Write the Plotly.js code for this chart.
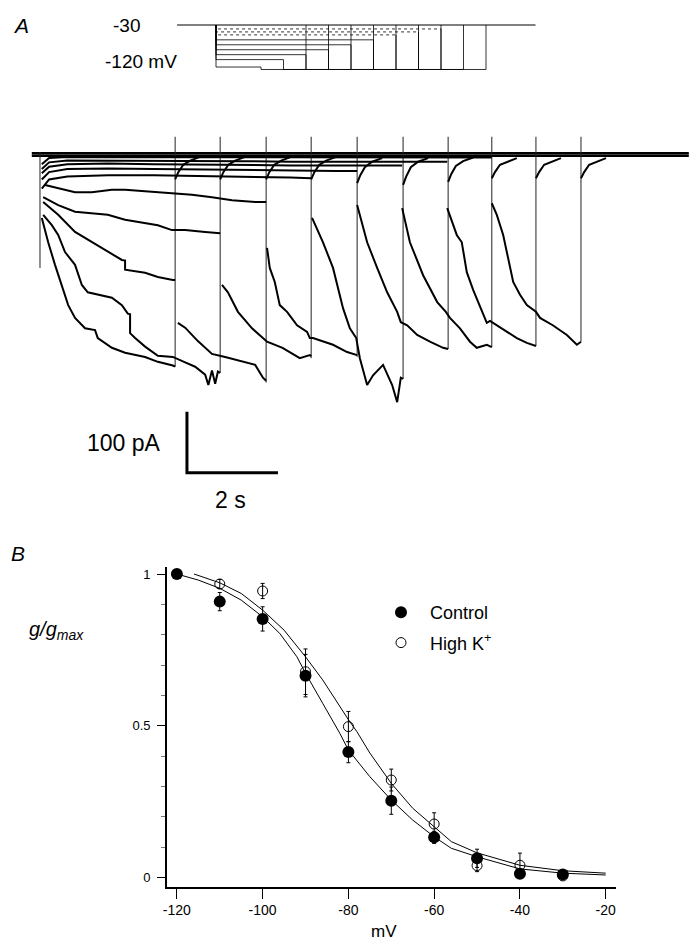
<!DOCTYPE html>
<html>
<head>
<meta charset="utf-8">
<script src="https://cdn.plot.ly/plotly-3.0.1.min.js"></script>
<style>html,body{margin:0;padding:0;background:#fff;}#chart{width:689px;height:945px;}</style>
</head>
<body>
<div id="chart"></div>
<script>
// ---------- Panel A : voltage protocol (time in s, voltage in mV) ----------
const protoHold_t = [-1.73, 14.2];
const protoHold_mV = [-30, -30];
const protoPrepulseEnd_s = [2, 3, 4, 5, 6, 7, 8, 9, 10];
const protoPrepulse_mV = [-115, -100, -90, -80, -70, -60, -50, -44, -38];
const protoTest_mV = -120;
const protoTestDur_s = 2;

// ---------- Panel A : current traces (time in s, current in pA) ----------
const holding_t = [-0.18, 14.26];
const holdingLevels_pA = [-2, -6];

const sweepA_t = [0.04,0.18,0.33,0.48,0.62,0.77,0.99,1.21,1.27,1.58,1.87,2.31,2.59,2.92,2.97,null,2.97,3.04,3.15,3.3,3.52];
const sweepA_pA = [-108,-148,-185,-218,-251,-272,-289,-292,-305,-321,-329,-336,-344,-350,-352,null,-45,-33,-21,-14,-8];

const sweepB_t = [0.07,0.26,0.4,0.55,0.77,0.92,1.05,1.27,1.58,1.8,1.93,1.98,1.98,2.09,2.31,2.59,2.92,3.19,3.41,3.63,3.7,3.78,3.85,3.91,3.96,null,3.96,4.03,4.14,4.29,4.51];
const sweepB_pA = [-103,-120,-136,-164,-185,-218,-230,-234,-239,-251,-265,-266,-297,-305,-319,-334,-336,-345,-352,-365,-382,-358,-380,-360,-362,null,-45,-33,-21,-14,-8];

const sweepC_t = [0.07,0.4,0.77,1.14,1.49,1.8,1.87,1.87,2.31,2.59,2.92,2.97,null,3.03,3.19,3.47,3.78,4.07,4.44,4.73,4.9,4.97,null,4.97,5.04,5.15,5.3,5.52];
const sweepC_pA = [-82,-103,-131,-148,-164,-177,-178,-193,-198,-205,-210,-210,null,-280,-288,-310,-331,-336,-344,-349,-370,-375,null,-45,-33,-21,-14,-8];

const sweepD_t = [0.07,0.4,0.77,1.14,1.49,1.87,2.24,2.59,2.9,3.19,3.63,3.91,3.96,null,4.0,4.13,4.35,4.66,4.9,4.99,5.33,5.71,5.93,5.96,null,5.96,6.03,6.14,6.29,6.51];
const sweepD_pA = [-74,-87,-98,-100,-103,-111,-115,-120,-128,-128,-131,-133,-133,null,-218,-230,-262,-289,-305,-311,-321,-338,-333,-335,null,-45,-33,-21,-14,-8];

const sweepE_t = [0.11,0.4,0.77,1.14,1.58,1.87,2.59,2.97,3.34,3.78,4.22,4.73,4.97,null,4.99,5.05,5.16,5.27,5.43,5.65,5.87,5.93,6.0,6.22,6.44,6.75,6.97,null,6.97,7.04,7.14,7.3,7.52];
const sweepE_pA = [-54,-59,-66,-66,-62,-62,-66,-67,-70,-74,-79,-82,-82,null,-157,-190,-213,-251,-262,-284,-295,-305,-305,-311,-316,-328,-333,null,-51,-38,-25,-16,-10];

const sweepF_t = [0.04,0.2,0.6,1.5,2.5,3.5,4.5,5.5,5.96,null,5.98,6.22,6.44,6.66,6.81,6.95,7.03,7.19,7.32,7.54,7.74,7.85,7.93,7.98,null,7.98,8.05,8.15,8.31,8.53];
const sweepF_pA = [-60,-45,-40,-38,-38,-39,-40,-42,-43,null,-108,-148,-190,-256,-289,-305,-338,-382,-366,-349,-382,-410,-370,-372,null,-54,-40,-25,-16,-10];

const sweepG_t = [0.04,0.2,0.6,1.5,2.5,3.5,4.5,5.5,6.5,6.97,null,6.97,7.19,7.41,7.63,7.85,7.93,8.07,8.29,8.57,8.86,8.97,null,8.97,9.04,9.14,9.3,9.52];
const sweepG_pA = [-45,-33,-28,-27,-28,-29,-30,-30,-31,-31,null,-87,-148,-190,-230,-262,-279,-284,-300,-311,-321,-323,null,-49,-36,-23,-15,-9];

const sweepH_t = [0.04,0.2,0.6,1.5,2.5,3.5,4.5,5.5,6.5,7.5,7.96,null,7.96,8.13,8.42,8.73,8.92,9.01,9.23,9.45,9.6,9.82,9.93,null,9.93,10.0,10.11,10.26,10.48];
const sweepH_pA = [-35,-24,-20,-19,-20,-21,-21,-22,-22,-22,-22,null,-92,-148,-202,-246,-262,-272,-289,-311,-321,-316,-320,null,-43,-33,-21,-16,-10];

const sweepI_t = [0.04,0.2,0.6,1.5,2.5,3.5,4.5,5.5,6.5,7.5,8.5,8.95,null,8.95,9.16,9.27,9.38,9.52,9.67,9.82,9.89,10.04,10.26,10.48,10.7,10.84,10.9,null,10.9,10.97,11.08,11.23,11.45];
const sweepI_pA = [-28,-17,-14,-14,-15,-15,-15,-16,-16,-16,-16,-16,null,-92,-136,-148,-197,-226,-254,-280,-277,-284,-295,-305,-313,-316,-318,null,-43,-33,-21,-16,-10];

const sweepJ_t = [0.04,0.2,0.6,1.5,2.5,3.5,4.5,5.5,6.5,7.5,8.5,9.5,9.93,null,9.93,10.04,10.18,10.29,10.4,10.55,10.7,10.9,10.99,11.27,11.58,11.8,11.86,11.89,null,11.89,11.96,12.07,12.22,12.44];
const sweepJ_pA = [-20,-10,-8,-8,-8,-9,-9,-9,-9,-9,-9,-9,-9,null,-84,-103,-136,-174,-213,-234,-251,-262,-272,-284,-300,-316,-312,-311,null,-43,-33,-21,-16,-10];

// capacitive transients at each voltage step
const transient_t = [0, 2.97, 3.96, 4.97, 5.96, 6.97, 7.98, 8.97, 9.93, 10.9, 11.89];
const transientTop_pA = [0, 25, 25, 25, 25, 25, 25, 25, 25, 25, 25];
const transientBottom_pA = [-190, -352, -362, -378, -338, -336, -372, -323, -320, -318, -311];

// scale bar: 2 s and 100 pA
const scaleBar_t = [3.23, 3.23, 5.23];
const scaleBar_pA = [-426, -526, -526];

// ---------- Panel B : g/gmax vs mV ----------
const control_mV = [-120,-110,-100,-90,-80,-70,-60,-50,-40,-30];
const control_g = [1.0,0.909,0.852,0.665,0.413,0.253,0.132,0.063,0.012,0.01];
const control_err = [0,0.03,0.04,0.07,0.035,0.045,0.02,0.03,0.01,0.01];
const highK_mV = [-110,-100,-90,-80,-70,-60,-50,-40,-30];
const highK_g = [0.967,0.944,0.678,0.497,0.321,0.176,0.039,0.04,0.005];
const highK_err = [0.015,0.025,0.075,0.05,0.036,0.037,0.02,0.04,0.01];

const controlFit_mV = [-120,-115,-110,-105,-100,-96,-92,-90,-86,-82,-80,-75,-70,-65,-60,-56,-50,-40,-30,-20];
const controlFit_g = [1.0,0.98,0.953,0.914,0.859,0.804,0.727,0.673,0.574,0.475,0.42,0.332,0.255,0.189,0.134,0.096,0.068,0.028,0.014,0.008];
const highKFit_mV = [-116,-110,-105,-100,-95,-90,-86,-82,-80,-78,-75,-70,-65,-60,-56,-50,-40,-30,-20];
const highKFit_g = [1.0,0.971,0.936,0.881,0.815,0.727,0.651,0.563,0.52,0.48,0.41,0.31,0.228,0.167,0.118,0.081,0.04,0.022,0.014];

const xTicks = [-120,-100,-80,-60,-40,-20];
const xTickText = ['-120','-100','-80','-60','-40','-20'];
const yTicks = [0, 0.5, 1];
const yTickText = ['0', '0.5', '1'];

// ---------- build ----------
const FONT = 'Liberation Sans, Arial, Helvetica, sans-serif';
const traces = [];
const skip = {showlegend: false, hoverinfo: 'skip'};

// protocol
traces.push(Object.assign({x: protoHold_t, y: protoHold_mV, xaxis: 'x3', yaxis: 'y3', mode: 'lines',
  line: {color: '#000', width: 1}}, skip));
protoPrepulseEnd_s.forEach((p, i) => {
  const v = protoPrepulse_mV[i];
  traces.push(Object.assign({
    x: [0, 0, p], y: [-30, v, v], xaxis: 'x3', yaxis: 'y3', mode: 'lines',
    line: {color: '#000', width: 0.8, dash: v > -55 ? 'dot' : 'solid'}}, skip));
  traces.push(Object.assign({
    x: [p, p, p + protoTestDur_s, p + protoTestDur_s], y: [v, protoTest_mV, protoTest_mV, -30],
    xaxis: 'x3', yaxis: 'y3', mode: 'lines', line: {color: '#000', width: 0.8}}, skip));
});

// holding baseline
holdingLevels_pA.forEach(lv => {
  traces.push(Object.assign({x: holding_t, y: [lv, lv], xaxis: 'x2', yaxis: 'y2', mode: 'lines',
    line: {color: '#000', width: 2.5}}, skip));
});

// transients (thin vertical lines)
const trX = [], trY = [];
transient_t.forEach((t, i) => { trX.push(t, t, null); trY.push(transientBottom_pA[i], transientTop_pA[i], null); });
traces.push(Object.assign({x: trX, y: trY, xaxis: 'x2', yaxis: 'y2', mode: 'lines',
  line: {color: '#222', width: 1}}, skip));

// sweeps
[[sweepA_t, sweepA_pA], [sweepB_t, sweepB_pA], [sweepC_t, sweepC_pA], [sweepD_t, sweepD_pA],
 [sweepE_t, sweepE_pA], [sweepF_t, sweepF_pA], [sweepG_t, sweepG_pA], [sweepH_t, sweepH_pA],
 [sweepI_t, sweepI_pA], [sweepJ_t, sweepJ_pA]].forEach(([t, i]) => {
  traces.push(Object.assign({x: t, y: i, xaxis: 'x2', yaxis: 'y2', mode: 'lines', connectgaps: false,
    line: {color: '#000', width: 2}}, skip));
});

// scale bar
traces.push(Object.assign({x: scaleBar_t, y: scaleBar_pA, xaxis: 'x2', yaxis: 'y2', mode: 'lines',
  line: {color: '#000', width: 3}}, skip));

// panel B fits
traces.push(Object.assign({x: controlFit_mV, y: controlFit_g, mode: 'lines', line: {color: '#000', width: 1}}, skip));
traces.push(Object.assign({x: highKFit_mV, y: highKFit_g, mode: 'lines', line: {color: '#000', width: 1}}, skip));

// panel B data
traces.push({x: control_mV, y: control_g, mode: 'markers', name: 'Control', legendgroup: 'c',
  marker: {symbol: 'circle', size: 12, color: '#000'},
  error_y: {type: 'data', array: control_err, visible: true, color: '#000', thickness: 1, width: 2}});
traces.push({x: highK_mV, y: highK_g, mode: 'markers', name: 'High K<sup>+</sup>', legendgroup: 'k',
  marker: {symbol: 'circle-open', size: 10, color: '#000', line: {width: 1, color: '#000'}},
  error_y: {type: 'data', array: highK_err, visible: true, color: '#000', thickness: 1, width: 2}});

const W = 689, H = 945;
const px = x => x / W, py = y => 1 - y / H;
const ann = (text, x, y, size) => ({text: text, x: px(x), y: py(y), xref: 'paper', yref: 'paper',
  xanchor: 'center', yanchor: 'middle', showarrow: false, font: {size: size, family: FONT, color: '#000'}});

const layout = {
  width: W, height: H,
  margin: {l: 0, r: 0, t: 0, b: 0},
  paper_bgcolor: '#fff', plot_bgcolor: 'rgba(0,0,0,0)',
  font: {family: FONT, color: '#000'},
  showlegend: true,
  legend: {x: px(372), y: py(594), xanchor: 'left', yanchor: 'top', bgcolor: 'rgba(0,0,0,0)',
    font: {family: FONT, size: 18, color: '#000'}, traceorder: 'grouped', tracegroupgap: 4,
    itemwidth: 48, itemsizing: 'trace'},
  xaxis: {domain: [px(167), px(616)], range: [-122.3, -17.6], showline: true, linecolor: '#000', linewidth: 1.5,
    ticks: 'outside', ticklen: 10, tickwidth: 1, tickcolor: '#000', tickvals: xTicks, ticktext: xTickText,
    tickfont: {size: 14, family: FONT}, showgrid: false, zeroline: false, anchor: 'y'},
  yaxis: {domain: [py(887), py(567)], range: [-0.0316, 1.0231], showline: true, linecolor: '#000', linewidth: 1.8,
    ticks: 'outside', ticklen: 8, tickwidth: 1, tickcolor: '#000', tickvals: yTicks, ticktext: yTickText,
    ticklabelstandoff: 4,
    tickfont: {size: 13, family: FONT}, showgrid: false, zeroline: false, anchor: 'x',
    minor: {dtick: 0.1, tick0: 0, ticks: 'outside', ticklen: 4, tickcolor: '#777', showgrid: false}},
  xaxis2: {domain: [0, 1], range: [-0.879, 14.264], visible: false, anchor: 'y2'},
  yaxis2: {domain: [py(480), py(120)], range: [-537.7, 52.46], visible: false, anchor: 'x2'},
  xaxis3: {domain: [0, 1], range: [-9.6, 21.022], visible: false, anchor: 'y3'},
  yaxis3: {domain: [py(80), py(10)], range: [-141.25, 0.34], visible: false, anchor: 'x3'},
  annotations: [
    ann('<i>A</i>', 21, 26, 21),
    ann('-30', 126, 25, 19),
    ann('-120 mV', 141, 62, 19),
    ann('100 pA', 124, 443, 23),
    ann('2 s', 231, 500, 23),
    ann('<i>B</i>', 18, 553, 21),
    ann('<i>g/g<sub>max</sub></i>', 56, 630, 20),
    ann('mV', 384, 931, 17)
  ]
};

Plotly.newPlot('chart', traces, layout, {displayModeBar: false, staticPlot: true});
</script>
</body>
</html>
